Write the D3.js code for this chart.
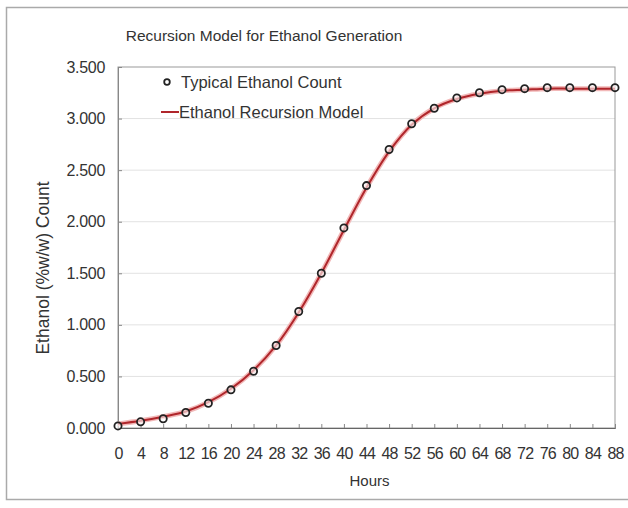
<!DOCTYPE html>
<html>
<head>
<meta charset="utf-8">
<script src="https://cdn.jsdelivr.net/npm/d3@7"></script>
<style>
  body { margin: 0; background: #fff; }
  svg text { font-family: "Liberation Sans", Arial, sans-serif; fill: #333; }
</style>
</head>
<body>
<div id="chart"></div>
<script>
// hours sampled every 4h
const hours = [0, 4, 8, 12, 16, 20, 24, 28, 32, 36, 40, 44, 48, 52, 56, 60, 64, 68, 72, 76, 80, 84, 88];
// typical ethanol count (markers)
const typicalCount = [0.02, 0.06, 0.09, 0.15, 0.24, 0.37, 0.55, 0.80, 1.13, 1.50, 1.94, 2.35, 2.70, 2.95, 3.10, 3.20, 3.25, 3.28, 3.29, 3.30, 3.30, 3.30, 3.30];
// recursion model (line)
const modelCount = [0.04, 0.07, 0.11, 0.16, 0.25, 0.38, 0.56, 0.80, 1.12, 1.50, 1.92, 2.33, 2.68, 2.94, 3.10, 3.19, 3.24, 3.27, 3.28, 3.29, 3.29, 3.29, 3.29];
const yTicks = [0, 0.5, 1, 1.5, 2, 2.5, 3, 3.5];

const W = 628, H = 508;
const margin = { top: 67, right: 13, bottom: 80, left: 118 };
const width = W - margin.left - margin.right,
      height = H - margin.top - margin.bottom;

const svg = d3.select("#chart").append("svg")
    .attr("width", W)
    .attr("height", H);

// outer frame
svg.append("rect")
    .attr("x", 6.5).attr("y", 7.5)
    .attr("width", W).attr("height", 492)
    .attr("fill", "none")
    .attr("stroke", "#aaa")
    .attr("stroke-width", 1.5);

svg.append("text")
    .attr("x", 264).attr("y", 41)
    .attr("text-anchor", "middle")
    .style("font-size", "15.5px")
    .text("Recursion Model for Ethanol Generation");

const g = svg.append("g").attr("transform", `translate(${margin.left},${margin.top})`);

const x = d3.scaleLinear().domain([0, 88]).range([0, width]);
const y = d3.scaleLinear().domain([0, 3.5]).range([height, 0]);

// gridlines
g.selectAll(".grid")
    .data(yTicks.slice(1, -1))
    .enter().append("line")
    .attr("class", "grid")
    .attr("x1", 0).attr("x2", width)
    .attr("y1", d => y(d)).attr("y2", d => y(d))
    .attr("stroke", "#e2e2e2");

// plot box (top/right)
g.append("rect")
    .attr("x", 0).attr("y", 0)
    .attr("width", width).attr("height", height)
    .attr("fill", "none")
    .attr("stroke", "#999");

const yAxis = g.append("g")
    .call(d3.axisLeft(y).tickValues(yTicks).tickFormat(d3.format(".3f")).tickSize(-4).tickPadding(13));
yAxis.select(".domain").attr("stroke", "#888");
yAxis.selectAll(".tick line").attr("stroke", "#888");
yAxis.selectAll("text").style("font-size", "16px").attr("fill", "#333").style("letter-spacing", "-0.3px");

const xAxis = g.append("g")
    .attr("transform", `translate(0,${height})`)
    .call(d3.axisBottom(x).tickValues(hours).tickSize(-4).tickPadding(20));
xAxis.select(".domain").attr("stroke", "#666");
xAxis.selectAll(".tick line").attr("stroke", "#888");
xAxis.selectAll("text").style("font-size", "16px").attr("fill", "#333").style("letter-spacing", "-0.8px");

// axis titles
svg.append("text")
    .attr("x", margin.left + width / 2 + 3).attr("y", 486)
    .attr("text-anchor", "middle")
    .style("font-size", "15px")
    .text("Hours");

svg.append("text")
    .attr("transform", `translate(49,${268}) rotate(-90)`)
    .attr("text-anchor", "middle")
    .style("font-size", "17.5px")
    .text("Ethanol (%w/w) Count");

// model line
const line = d3.line()
    .x((d, i) => x(hours[i]))
    .y(d => y(d))
    .curve(d3.curveCatmullRom);

g.append("path")
    .datum(modelCount)
    .attr("d", line)
    .attr("fill", "none")
    .attr("stroke", "#f2b8b8")
    .attr("stroke-width", 5);
g.append("path")
    .datum(modelCount)
    .attr("d", line)
    .attr("fill", "none")
    .attr("stroke", "#b0262b")
    .attr("stroke-width", 2);

// markers
g.selectAll(".pt")
    .data(typicalCount)
    .enter().append("circle")
    .attr("class", "pt")
    .attr("cx", (d, i) => x(hours[i]))
    .attr("cy", d => y(d))
    .attr("r", 3.6)
    .attr("fill", "#fff")
    .attr("fill-opacity", 0.6)
    .attr("stroke", "#222")
    .attr("stroke-width", 1.8);

// legend
const leg = svg.append("g");
leg.append("circle")
    .attr("cx", 167).attr("cy", 82).attr("r", 2.8)
    .attr("fill", "#fff").attr("stroke", "#222").attr("stroke-width", 1.8);
leg.append("text")
    .attr("x", 181).attr("y", 88)
    .style("font-size", "16.5px")
    .text("Typical Ethanol Count");
leg.append("line")
    .attr("x1", 161).attr("x2", 179)
    .attr("y1", 112).attr("y2", 112)
    .attr("stroke", "#b0262b").attr("stroke-width", 2);
leg.append("text")
    .attr("x", 179).attr("y", 118)
    .style("font-size", "16.5px")
    .text("Ethanol Recursion Model");
</script>
</body>
</html>
